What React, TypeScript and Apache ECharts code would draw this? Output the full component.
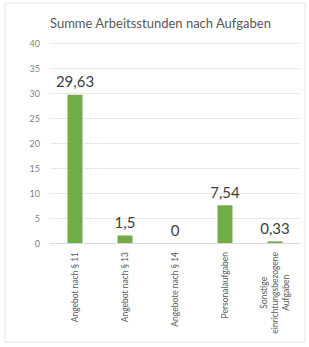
import React, { useEffect, useRef } from "react";
import * as echarts from "echarts";

const categories = [
  "Angebot nach § 11",
  "Angebot nach § 13",
  "Angebote nach § 14",
  "Personalaufgaben",
  "Sonstige\neinrichtungsbezogene\nAufgaben",
];
const values = [29.63, 1.5, 0, 7.54, 0.33];
const title = "Summe Arbeitsstunden nach Aufgaben";

export default function App() {
  const ref = useRef<HTMLDivElement>(null);
  useEffect(() => {
    if (!ref.current) return;
    const chart = echarts.init(ref.current, null, { renderer: "svg" });
    chart.setOption({
      animation: false,
      backgroundColor: "#ffffff",
      textStyle: { fontFamily: "Lato" },
      title: {
        text: title,
        left: 45,
        top: 11,
        textStyle: { fontSize: 13, fontWeight: "normal", color: "#595959", fontFamily: "Lato" },
      },
      graphic: [
        {
          type: "rect",
          shape: { x: 5, y: 3, width: 300, height: 339 },
          style: { fill: "none", stroke: "#e4e4e4", lineWidth: 1 },
          silent: true,
        },
      ],
      grid: { left: 50, right: 9, top: 43, bottom: 104, containLabel: false },
      xAxis: {
        type: "category",
        data: categories,
        axisTick: { show: false },
        axisLine: { lineStyle: { color: "#d9d9d9" } },
        axisLabel: {
          rotate: 90,
          interval: 0,
          margin: 9,
          fontSize: 8.5,
          color: "#595959",
          lineHeight: 11,
          formatter: (v: string) =>
            v
              .split("\n")
              .map((s) => "{c|" + s + "}")
              .join("\n"),
          rich: { c: { align: "center", fontSize: 8.5, color: "#595959", lineHeight: 11, fontFamily: "Lato" } },
        },
      },
      yAxis: {
        type: "value",
        min: 0,
        max: 40,
        interval: 5,
        axisLine: { show: false },
        axisTick: { show: false },
        axisLabel: { fontSize: 9, color: "#7f7f7f", margin: 10 },
        splitLine: { lineStyle: { color: "#e8e8e8" } },
      },
      series: [
        {
          type: "bar",
          data: values,
          barWidth: 15,
          itemStyle: { color: "#70ad47" },
          label: {
            show: true,
            position: "top",
            distance: 6,
            fontSize: 15,
            color: "#404040",
            fontFamily: "Lato",
            formatter: (p: any) => String(p.value).replace(".", ","),
          },
        },
      ],
    });
    return () => chart.dispose();
  }, []);
  return (
    <div
      ref={ref}
      style={{ position: "absolute", left: 0, top: 0, width: 309, height: 347 }}
    />
  );
}
